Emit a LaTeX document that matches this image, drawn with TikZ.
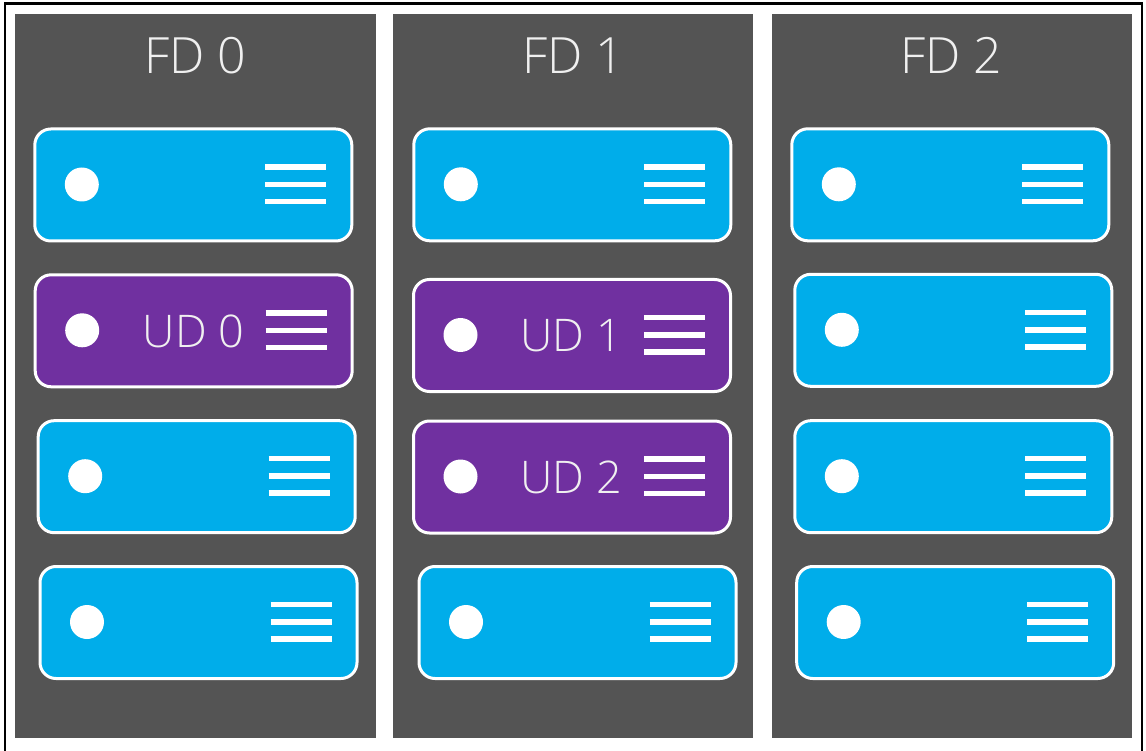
\documentclass[tikz,border=0pt]{standalone}
\usepackage{fontspec}
\setmainfont{Open Sans Light}
\usetikzlibrary{calc}
\definecolor{rackgray}{RGB}{84,84,84}
\definecolor{srvblue}{RGB}{0,173,234}
\definecolor{srvpurple}{RGB}{112,48,160}
\definecolor{txtwhite}{RGB}{240,240,240}
\tikzset{
  framestyle/.style={black, line width=2.5pt},
  rack/.style={fill=rackgray, draw=none},
  server/.style={draw=white, line width=3pt, rounded corners=16pt,
    minimum width=317pt, minimum height=112pt, inner sep=0pt},
  led/.style={circle, fill=white, draw=none, minimum size=34pt, inner sep=0pt},
  bar/.style={white, line width=5.5pt},
  fdlabel/.style={text=txtwhite, font=\fontsize{50}{60}\selectfont, anchor=base, inner sep=0pt},
  udlabel/.style={text=txtwhite, font=\fontsize{45}{54}\selectfont, anchor=base, inner sep=0pt},
}
\begin{document}
\begin{tikzpicture}[x=1pt,y=-1pt]
\useasboundingbox (0,0) rectangle (1146,751);
\fill[white] (0,0) rectangle (1146,751);
\draw[framestyle] (5,751) -- (5,3.5) -- (1142,3.5) -- (1142,751);
% racks (fault domains)
\fill[rack] (15,14) rectangle (375.5,738.3);
\fill[rack] (393.3,14) rectangle (753.3,738.3);
\fill[rack] (771.7,14) rectangle (1131.7,738.3);
\node[fdlabel] (fd0) at (195.3,73.5) {FD 0};
\node[fdlabel] (fd1) at (573.5,73.5) {FD 1};
\node[fdlabel] (fd2) at (951.5,73.5) {FD 2};
% servers
\foreach \nm/\cx/\cy/\col in {
  s00/193.3/185/srvblue, s01/193.7/330.8/srvpurple, s02/196.7/476.7/srvblue, s03/198.5/622.5/srvblue,
  s10/572.3/184.8/srvblue, s11/572/335.5/srvpurple, s12/572/477/srvpurple, s13/577.5/622.5/srvblue,
  s20/950.3/184.8/srvblue, s21/953.3/330.3/srvblue, s22/953.3/476.7/srvblue, s23/955.2/622.5/srvblue} {
  \node[server, fill=\col] (\nm) at (\cx,\cy) {};
  \node[led] (\nm-led) at ($(\nm.center)+(-111.5,-0.5)$) {};
  \foreach \dy in {-17.5,0,17} {
    \draw[bar] ($(\nm.center)+(72,\dy-0.5)$) -- ($(\nm.center)+(133,\dy-0.5)$);
  }
}
\node[udlabel] (ud0) at ($(s01.center)+(0,16.5)$) {UD 0};
\node[udlabel] (ud1) at ($(s11.center)+(-1,16.5)$) {UD 1};
\node[udlabel] (ud2) at ($(s12.center)+(-1,16.5)$) {UD 2};
\end{tikzpicture}
\end{document}
